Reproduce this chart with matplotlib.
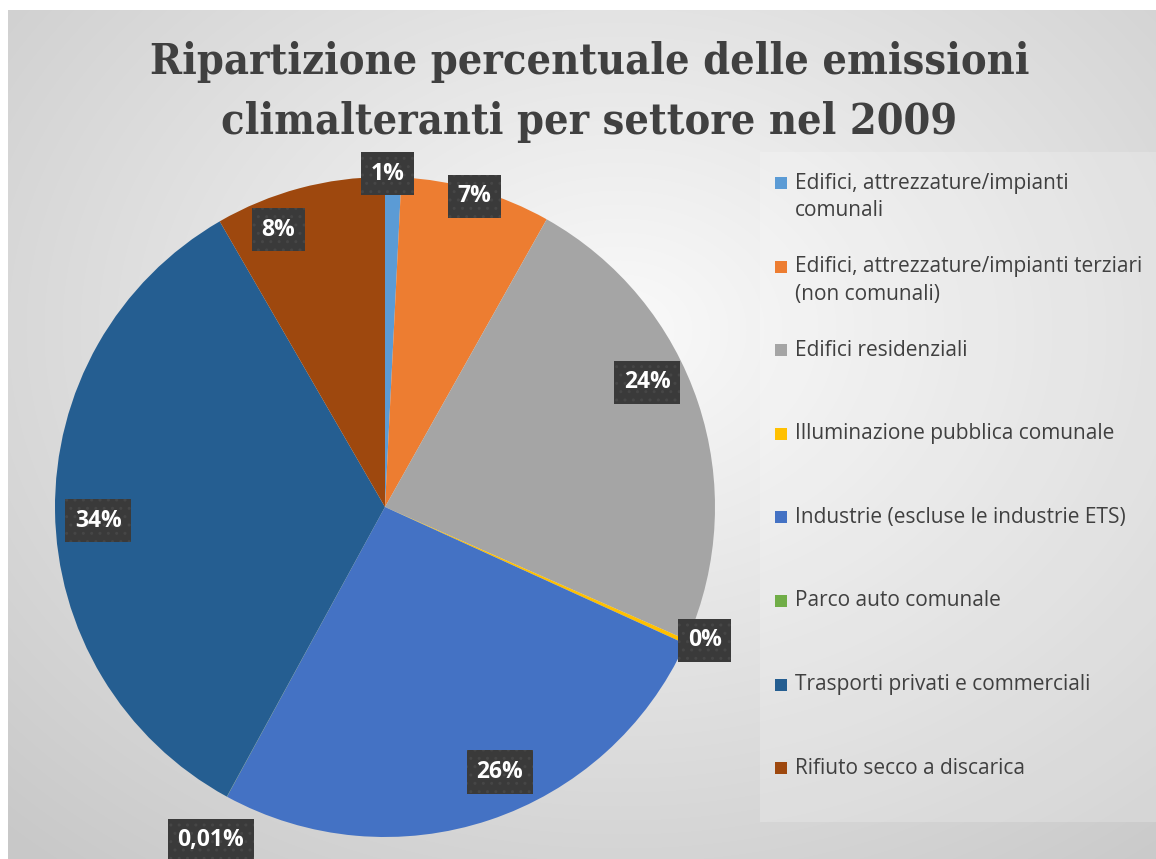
import numpy as np
import matplotlib.pyplot as plt
from matplotlib.patches import Rectangle

settori = ["Edifici, attrezzature/impianti\ncomunali",
           "Edifici, attrezzature/impianti terziari\n(non comunali)",
           "Edifici residenziali",
           "Illuminazione pubblica comunale",
           "Industrie (escluse le industrie ETS)",
           "Parco auto comunale",
           "Trasporti privati e commerciali",
           "Rifiuto secco a discarica"]
quote = [0.8, 7.4, 23.6, 0.2, 26.3, 0.01, 33.9, 8.4]
etichette = ["1%", "7%", "24%", "0%", "26%", "0,01%", "34%", "8%"]
colori = ["#5B9BD5", "#ED7D31", "#A5A5A5", "#FFC000",
          "#4472C4", "#70AD47", "#255E91", "#9E480E"]

W, H = 1156, 859
fig = plt.figure(figsize=(W / 100, H / 100), dpi=100)

# sfondo sfumato
bg = fig.add_axes([0, 0, 1, 1], zorder=-10)
yy, xx = np.mgrid[0:H, 0:W]
d = np.sqrt(((xx - 620) / 900.0) ** 2 + ((yy - 330) / 700.0) ** 2)
val = 250 - 50 * np.clip(d, 0, 1)
val[:10, :] = 255
val[:, :8] = 255
img = np.dstack([val, val, val]) / 255.0
bg.imshow(img, extent=[0, W, H, 0], aspect='auto')
bg.add_patch(Rectangle((760, 152), W - 760, 670, color='white', alpha=0.2, lw=0))
bg.set_xlim(0, W)
bg.set_ylim(H, 0)
bg.axis('off')

# torta
cx, cy, R = 385, 507, 330
ax = fig.add_axes([(cx - R) / W, (H - cy - R) / H, 2 * R / W, 2 * R / H])
wedges, _ = ax.pie(quote, colors=colori, startangle=90, counterclock=False,
                   wedgeprops=dict(linewidth=0))
ax.set_xlim(-1, 1)
ax.set_ylim(-1, 1)
ax.axis('off')

# distanza delle etichette dal centro e spostamento angolare
dist = [1.01, 0.98, 0.88, 1.05, 0.875, 1.14, 0.87, 0.90]
shift = [1, 0, 7, 1.5, 5, 1, 2, 6]
for w, lab, r, s in zip(wedges, etichette, dist, shift):
    ang = np.deg2rad((w.theta1 + w.theta2) / 2 + s)
    x, y = r * np.cos(ang), r * np.sin(ang)
    ax.text(x, y, lab, ha='center', va='center', fontsize=16.5, fontweight='bold',
            color='white', family='Open Sans', zorder=5,
            bbox=dict(boxstyle='square,pad=0.42', fc='#3a3a3a', ec='#464646',
                      lw=0, hatch='..'))

# titolo
for k, riga in enumerate(["Ripartizione percentuale delle emissioni",
                          "climalteranti per settore nel 2009"]):
    fig.text(0.51, 1 - (62 + 60 * k) / H, riga, ha='center', va='center',
             fontsize=31, fontweight='bold', fontstretch='condensed',
             color='#404040', family='DejaVu Serif')

# legenda
for i, (nome, col) in enumerate(zip(settori, colori)):
    ytop = 183 + i * 83.6
    bg.add_patch(Rectangle((775, ytop - 6), 12, 12, color=col, lw=0))
    for k, riga in enumerate(nome.split('\n')):
        bg.text(795, ytop + 28 * k, riga, ha='left', va='center', fontsize=15,
                color='#404040', family='Open Sans')

fig.savefig('out.png', dpi=100)
